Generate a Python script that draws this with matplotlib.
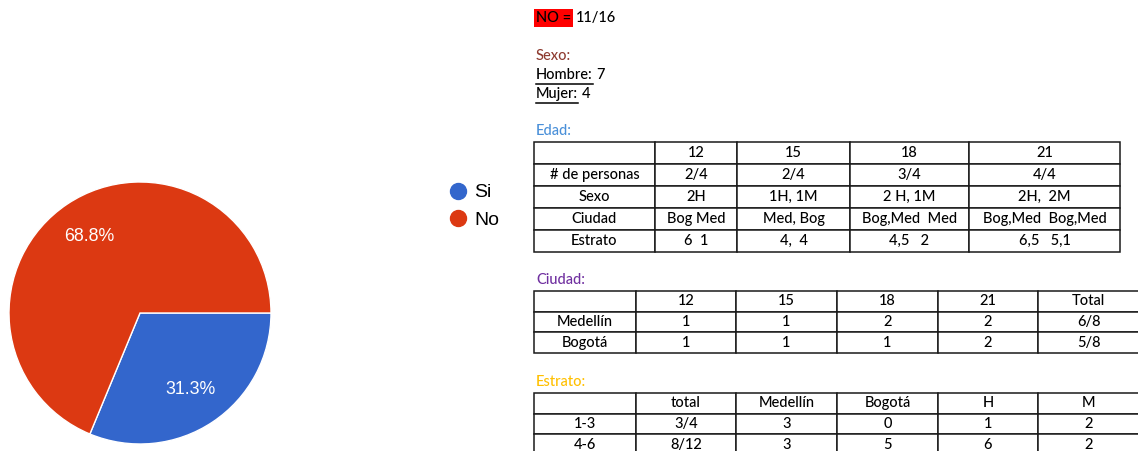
import math
import matplotlib
matplotlib.use('Agg')
import matplotlib.pyplot as plt
from matplotlib.lines import Line2D

# ---- data ----
pie_labels = ['Si', 'No']
pie_values = [5, 11]
pie_colors = ['#3366CC', '#DC3912']

no_ratio = '11/16'
sexo_labels = ['Hombre:', 'Mujer:']
sexo_counts = [7, 4]

edad_cols = ['12', '15', '18', '21']
edad_rows = ['# de personas', 'Sexo', 'Ciudad', 'Estrato']
edad_cells = [['2/4', '2/4', '3/4', '4/4'],
              ['2H', '1H, 1M', '2 H, 1M', '2H,  2M'],
              ['Bog Med', 'Med, Bog', 'Bog,Med  Med', 'Bog,Med  Bog,Med'],
              ['6  1', '4,  4', '4,5   2', '6,5   5,1']]

ciudad_cols = ['12', '15', '18', '21', 'Total']
ciudad_rows = ['Medellín', 'Bogotá']
ciudad_cells = [['1', '1', '2', '2', '6/8'],
                ['1', '1', '1', '2', '5/8']]

estrato_cols = ['total', 'Medellín', 'Bogotá', 'H', 'M']
estrato_rows = ['1-3', '4-6']
estrato_cells = [['3/4', '3', '0', '1', '2'],
                 ['8/12', '3', '5', '6', '2']]

W, H = 1138, 451
DOC_FONT = 'Lato'
DOC_SIZE = 10.5
DOC_WEIGHT = 500


def fig_box(x0, y0, x1, y1):
    # pixel box (top-left origin) -> figure fraction rect
    return [x0 / W, 1 - y1 / H, (x1 - x0) / W, (y1 - y0) / H]


fig = plt.figure(figsize=(W / 100, H / 100), dpi=100)
ax = fig.add_axes([0, 0, 1, 1])
ax.set_xlim(0, W)
ax.set_ylim(H, 0)
ax.axis('off')
renderer = fig.canvas.get_renderer()


def text_right_edge(t):
    bb = t.get_window_extent(renderer)
    return ax.transData.inverted().transform((bb.x1, bb.y0))


def doc_text(x, y, s, **kw):
    return ax.text(x, y, s, ha='left', va='center', fontsize=DOC_SIZE, family=DOC_FONT,
                   fontweight=DOC_WEIGHT, **kw)


# ---- pie ----
r_pad = 1.05
cx, cy, rad = 140, 313, 131
pax = fig.add_axes(fig_box(cx - rad * r_pad, cy - rad * r_pad, cx + rad * r_pad, cy + rad * r_pad))


def pct_fmt(p):
    return '%.1f%%' % (math.floor(p * 10 + 0.5) / 10)


wedges, _, autotexts = pax.pie(pie_values, colors=pie_colors, startangle=0, counterclock=False,
                               autopct=pct_fmt, pctdistance=0.7,
                               wedgeprops=dict(edgecolor='white', linewidth=1),
                               textprops=dict(color='white', fontsize=12.8, family='Liberation Sans'))
pax.set_xlim(-r_pad, r_pad)
pax.set_ylim(-r_pad, r_pad)
pax.set_aspect('equal')

handles = [Line2D([], [], marker='o', linestyle='none', markersize=11.5,
                  markerfacecolor=c, markeredgecolor=c) for c in pie_colors]
fig.legend(handles, pie_labels, loc='upper left', bbox_to_anchor=(440 / W, 1 - 174 / H),
           frameon=False, handlelength=0.9, handletextpad=0.35, labelspacing=0.5,
           borderpad=0, prop=dict(family='Liberation Sans', size=14))

# ---- heading texts ----
t_no = doc_text(536, 18, 'NO =', bbox=dict(facecolor='#FF0000', edgecolor='none', pad=1.2))
x_end, _ = text_right_edge(t_no)
doc_text(x_end + 5, 18, no_ratio)

doc_text(536, 56, 'Sexo:', color='#8E3B30')
for i, (lab, n) in enumerate(zip(sexo_labels, sexo_counts)):
    y = 75 + i * 19
    t = doc_text(536, y, lab)
    xe, _ = text_right_edge(t)
    ax.plot([536, xe], [y + 9, y + 9], color='black', lw=1.1)
    doc_text(xe + 4, y, str(n))

doc_text(536, 131, 'Edad:', color='#4A90D9')
doc_text(536, 280, 'Ciudad:', color='#7030A0')
doc_text(536, 382, 'Estrato:', color='#FFC000')


# ---- tables ----
def draw_table(col_labels, row_labels, cells, col_edges, y_top, y_bottom):
    rows = [[''] + col_labels] + [[r] + c for r, c in zip(row_labels, cells)]
    total_w = col_edges[-1] - col_edges[0]
    widths = [(b - a) / total_w for a, b in zip(col_edges[:-1], col_edges[1:])]
    x0, x1 = col_edges[0], col_edges[-1]
    tb = ax.table(cellText=rows, colWidths=widths, cellLoc='center',
                  bbox=[x0 / W, 1 - y_bottom / H, (x1 - x0) / W, (y_bottom - y_top) / H])
    tb.auto_set_font_size(False)
    for cell in tb.get_celld().values():
        cell.set_edgecolor('#1a1a1a')
        cell.set_linewidth(1.1)
        cell.get_text().set_fontsize(DOC_SIZE)
        cell.get_text().set_fontfamily(DOC_FONT)
        cell.get_text().set_fontweight(DOC_WEIGHT)
    return tb


draw_table(edad_cols, edad_rows, edad_cells, [534, 655, 737, 850, 969, 1120], 142, 252)
draw_table(ciudad_cols, ciudad_rows, ciudad_cells, [534, 636, 736, 837, 938, 1038, 1139], 291, 353)
draw_table(estrato_cols, estrato_rows, estrato_cells, [534, 636, 736, 837, 938, 1038, 1139], 393, 455)

fig.savefig('out.png', dpi=100)
